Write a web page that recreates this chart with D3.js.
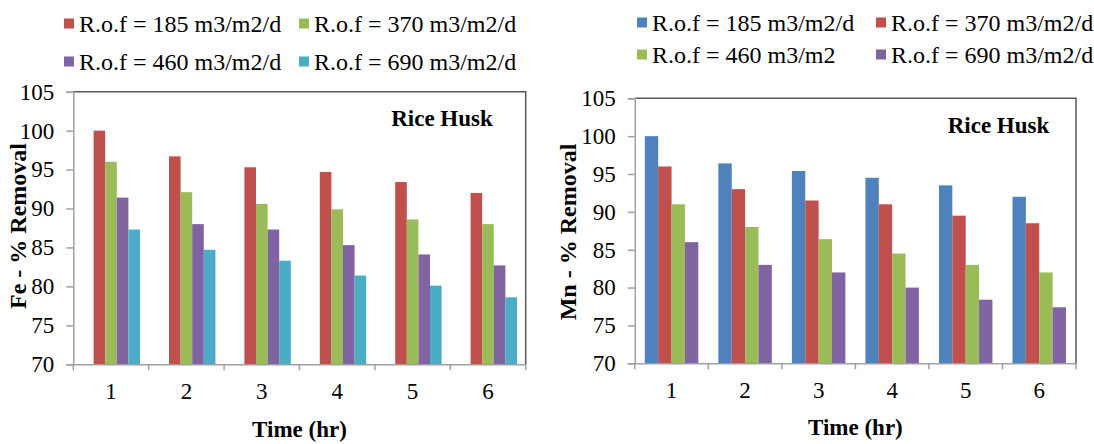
<!DOCTYPE html>
<html>
<head>
<meta charset="utf-8">
<script src="https://cdn.jsdelivr.net/npm/d3@7/dist/d3.min.js"></script>
<style>
  html, body { margin: 0; padding: 0; background: #fff; }
  svg { display: block; }
</style>
</head>
<body>
<svg id="chart" width="1094" height="444"></svg>
<script>
// ---- data ----
const categories = ["1", "2", "3", "4", "5", "6"];
const yTickValues = [70, 75, 80, 85, 90, 95, 100, 105];

const feSeriesNames = ["R.o.f = 185 m3/m2/d", "R.o.f = 370 m3/m2/d", "R.o.f = 460 m3/m2/d", "R.o.f = 690 m3/m2/d"];
const fe185 = [100.0, 96.7, 95.3, 94.7, 93.4, 92.0];
const fe370 = [96.0, 92.1, 90.6, 89.9, 88.6, 88.0];
const fe460 = [91.4, 88.0, 87.3, 85.3, 84.1, 82.7];
const fe690 = [87.3, 84.7, 83.3, 81.4, 80.1, 78.6];

const mnSeriesNames = ["R.o.f = 185 m3/m2/d", "R.o.f = 370 m3/m2/d", "R.o.f = 460 m3/m2", "R.o.f = 690 m3/m2/d"];
const mn185 = [100.0, 96.4, 95.4, 94.5, 93.5, 92.0];
const mn370 = [96.0, 93.0, 91.5, 91.0, 89.5, 88.5];
const mn460 = [91.0, 88.0, 86.4, 84.5, 83.0, 82.0];
const mn690 = [86.0, 83.0, 82.0, 80.0, 78.4, 77.4];

const feColors = ["#C0504D", "#9BBB59", "#8064A2", "#4BACC6"];
const mnColors = ["#4F81BD", "#C0504D", "#9BBB59", "#8064A2"];

// pick an installed Times-like font
function pickFont(cands) {
  const c = document.createElement("canvas").getContext("2d");
  const probe = "mmmmmmwwwwwlllliiiRHk0123456789";
  for (const f of cands) {
    for (const base of ["monospace", "sans-serif"]) {
      c.font = "72px " + base;
      const w0 = c.measureText(probe).width;
      c.font = `72px "${f}", ${base}`;
      const w1 = c.measureText(probe).width;
      if (Math.abs(w1 - w0) > 0.5) return `"${f}"`;
    }
  }
  return "serif";
}
const FONT = pickFont(["Liberation Serif", "Times New Roman", "Tinos", "Times", "DejaVu Serif", "Noto Serif"]) + ", serif";
const FS = 23;
const LEGEND_FS = 24;

const svg = d3.select("#chart").style("font-family", FONT);

function drawChart(cfg) {
  const g = svg.append("g");
  const x = d3.scaleBand().domain(categories).range([cfg.left, cfg.right]).padding(0);
  const y = d3.scaleLinear().domain([70, 105]).range([cfg.bottom, cfg.top]);
  const nSlots = cfg.series.length + cfg.slotOffset;
  const bw = x.bandwidth() / (nSlots + 1.5);

  // bars
  cfg.series.forEach((vals, si) => {
    g.append("g").selectAll("rect").data(vals).join("rect")
      .attr("x", (d, i) => x(categories[i]) + x.bandwidth() / 2 - nSlots * bw / 2 + (si + cfg.slotOffset) * bw)
      .attr("y", d => y(d))
      .attr("width", bw)
      .attr("height", d => y(70) - y(d))
      .attr("fill", cfg.colors[si]);
  });

  // frame top/right
  g.append("path")
    .attr("d", `M${cfg.left},${cfg.top}H${cfg.right}V${cfg.bottom}`)
    .attr("fill", "none").attr("stroke", "#595959").attr("stroke-width", 1.5);

  // y axis
  const ya = g.append("g").attr("transform", `translate(${cfg.left},0)`)
    .call(d3.axisLeft(y).tickValues(yTickValues).tickSize(7).tickPadding(12).tickFormat(d3.format("d")));
  ya.attr("font-family", null).attr("font-size", null);
  ya.select(".domain").attr("stroke", "#A0A0A0").attr("stroke-width", 1.5);
  ya.selectAll(".tick line").attr("stroke", "#A0A0A0").attr("stroke-width", 1.5);
  ya.selectAll("text").attr("font-size", FS).style("font-family", FONT).attr("fill", "#000");

  // x axis
  const xa = g.append("g").attr("transform", `translate(0,${cfg.bottom})`)
    .call(d3.axisBottom(x).tickSize(0).tickPadding(18));
  xa.attr("font-family", null).attr("font-size", null);
  xa.select(".domain").attr("stroke", "#A0A0A0").attr("stroke-width", 1.5);
  xa.selectAll("text").attr("font-size", FS).style("font-family", FONT).attr("fill", "#000");
  const bounds = categories.map(c => x(c)).concat([cfg.right]);
  g.append("g").selectAll("line").data(bounds).join("line")
    .attr("x1", d => d).attr("x2", d => d)
    .attr("y1", cfg.bottom).attr("y2", cfg.bottom + 6)
    .attr("stroke", "#A0A0A0").attr("stroke-width", 1.5);

  // axis titles
  g.append("text")
    .attr("x", (cfg.left + cfg.right) / 2).attr("y", cfg.xTitleY)
    .attr("text-anchor", "middle").attr("font-weight", "bold").attr("font-size", FS)
    .text("Time (hr)");
  g.append("text")
    .attr("transform", `translate(${cfg.yTitleX},${cfg.yTitleY}) rotate(-90)`)
    .attr("text-anchor", "middle").attr("dominant-baseline", "central")
    .attr("font-weight", "bold").attr("font-size", 24)
    .text(cfg.yTitle);

  // annotation
  g.append("text")
    .attr("x", cfg.noteX).attr("y", cfg.noteY)
    .attr("text-anchor", "middle").attr("font-weight", "bold").attr("font-size", FS)
    .text("Rice Husk");

  // legend
  const lg = g.append("g");
  cfg.names.forEach((name, i) => {
    const col = i % 2, row = Math.floor(i / 2);
    const lx = cfg.legendX[col], ly = cfg.legendY[row];
    lg.append("rect").attr("x", lx).attr("y", ly - 5).attr("width", 10).attr("height", 10)
      .attr("fill", cfg.colors[i]);
    lg.append("text").attr("x", lx + 15).attr("y", ly).attr("dominant-baseline", "central")
      .attr("font-size", LEGEND_FS).text(name);
  });
}

drawChart({
  left: 73.3, right: 525.7, top: 91.7, bottom: 364.3,
  series: [fe185, fe370, fe460, fe690], names: feSeriesNames, colors: feColors,
  slotOffset: 1,
  yTitle: "Fe - % Removal", yTitleX: 17.5, yTitleY: 226, xTitleY: 437,
  noteX: 442, noteY: 126,
  legendX: [64, 299], legendY: [23.5, 61.5]
});

drawChart({
  left: 634.8, right: 1076, top: 98.3, bottom: 363.3,
  series: [mn185, mn370, mn460, mn690], names: mnSeriesNames, colors: mnColors,
  slotOffset: 0,
  yTitle: "Mn - % Removal", yTitleX: 567.5, yTitleY: 232, xTitleY: 435,
  noteX: 998.5, noteY: 133,
  legendX: [637, 876], legendY: [22.5, 54.5]
});
</script>
</body>
</html>
